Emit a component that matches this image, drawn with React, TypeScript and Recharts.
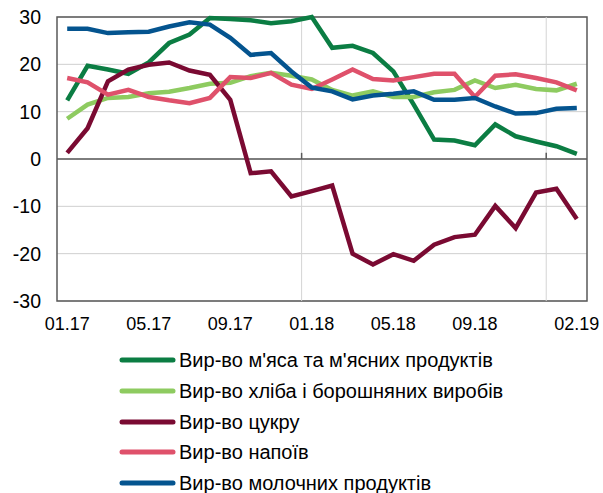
import React from 'react';
import {
  LineChart, Line, XAxis, YAxis, CartesianGrid, ReferenceLine, ReferenceArea, Legend,
} from 'recharts';

const months = [
  '01.17', '02.17', '03.17', '04.17', '05.17', '06.17', '07.17', '08.17', '09.17', '10.17', '11.17', '12.17',
  '01.18', '02.18', '03.18', '04.18', '05.18', '06.18', '07.18', '08.18', '09.18', '10.18', '11.18', '12.18',
  '01.19', '02.19',
];
const xTicks = ['01.17', '05.17', '09.17', '01.18', '05.18', '09.18', '02.19'];
const yTicks = [-30, -20, -10, 0, 10, 20, 30];
const yearStarts = ['01.18', '01.19'];

const meat = [12.4, 19.7, 18.9, 18.0, 20.4, 24.5, 26.3, 29.8, 29.6, 29.3, 28.7, 29.1, 30.0, 23.5, 23.9, 22.4, 18.5, 11.5, 4.1, 3.9, 2.9, 7.3, 4.8, 3.7, 2.7, 1.1];
const bread = [8.5, 11.5, 12.9, 13.1, 13.9, 14.2, 15.0, 15.9, 16.1, 17.5, 18.2, 17.6, 16.8, 14.6, 13.4, 14.3, 13.1, 13.1, 14.1, 14.6, 16.6, 15.0, 15.7, 14.8, 14.5, 15.9];
const sugar = [1.3, 6.5, 16.4, 18.9, 19.9, 20.4, 18.7, 17.8, 12.5, -3.0, -2.6, -7.9, -6.8, -5.6, -20.0, -22.3, -20.1, -21.5, -18.1, -16.5, -16.0, -9.9, -14.6, -7.1, -6.3, -12.7];
const drinks = [17.1, 16.2, 13.6, 14.6, 13.1, 12.4, 11.8, 12.9, 17.3, 17.1, 18.2, 15.7, 14.8, 16.8, 18.9, 16.9, 16.6, 17.3, 18.0, 18.0, 13.1, 17.6, 17.9, 17.1, 16.2, 14.5];
const dairy = [27.5, 27.5, 26.6, 26.8, 26.9, 28.0, 28.9, 28.4, 25.6, 22.0, 22.4, 18.5, 15.1, 14.3, 12.6, 13.4, 13.8, 14.3, 12.5, 12.5, 12.9, 11.1, 9.6, 9.7, 10.6, 10.8];

const series = [
  { key: 'meat', name: "Вир-во м'яса та м'ясних продуктів", color: '#0b7d43', values: meat },
  { key: 'bread', name: 'Вир-во хліба і борошняних виробів', color: '#8ecb60', values: bread },
  { key: 'sugar', name: 'Вир-во цукру', color: '#7a0a32', values: sugar },
  { key: 'drinks', name: 'Вир-во напоїв', color: '#df516b', values: drinks },
  { key: 'dairy', name: 'Вир-во молочних продуктів', color: '#04548f', values: dairy },
];

// each month sits in the middle of its slot on a 0..N numeric axis
const data = months.map((m, i) => {
  const row: Record<string, any> = { m, x: i + 0.5 };
  series.forEach((s) => { row[s.key] = s.values[i]; });
  return row;
});
const tickPos = xTicks.map((t) => months.indexOf(t) + 0.5);
const gridPos = yearStarts.map((t) => months.indexOf(t));

const FONT = '"Liberation Sans", Arial, sans-serif';

const LegendBox = () => (
  <div style={{ fontFamily: FONT, fontSize: 20, color: '#000', lineHeight: 1 }}>
    {series.map((s) => (
      <div key={s.key} style={{ display: 'flex', alignItems: 'center', height: 30.7 }}>
        <svg width={58} height={10} style={{ marginRight: 3 }}>
          <line x1={4} y1={5} x2={55} y2={5} stroke={s.color} strokeWidth={5} strokeLinecap="round" />
        </svg>
        <span>{s.name}</span>
      </div>
    ))}
  </div>
);

export default function App() {
  return (
    <div style={{ position: 'absolute', left: 0, top: 0, background: '#fff' }}>
      <LineChart width={603} height={493} data={data} margin={{ top: 17, right: 16, left: 0, bottom: 162 }}>
        <CartesianGrid vertical={false} stroke="#cfcfcf" strokeWidth={1} />
        <XAxis
          dataKey="x"
          type="number"
          domain={[0, months.length]}
          allowDataOverflow
          ticks={tickPos}
          interval={0}
          tickFormatter={(v) => months[Math.floor(v)]}
          height={30}
          tickLine={false}
          axisLine={false}
          tickSize={6}
          tickMargin={10}
          tick={{ fill: '#000', fontSize: 18, fontFamily: FONT }}
        />
        <YAxis
          domain={[-30, 30]}
          ticks={yTicks}
          width={57}
          tickLine={false}
          axisLine={false}
          tickSize={6}
          tickMargin={10}
          tick={{ fill: '#000', fontSize: 19.5, fontFamily: FONT }}
        />
        {gridPos.map((g) => (
          <ReferenceLine key={`g${g}`} x={g} stroke="#d4d4d4" strokeWidth={1} />
        ))}
        <ReferenceLine y={0} stroke="#5a5a5a" strokeWidth={1.5} />
        {gridPos.map((g) => (
          <ReferenceLine key={`t${g}`} segment={[{ x: g, y: 0 }, { x: g, y: 1.3 }]} stroke="#5a5a5a" strokeWidth={1.5} />
        ))}
        <ReferenceArea x1={0} x2={months.length} y1={-30} y2={30} fill="none" stroke="#5a5a5a" strokeWidth={1.5} />
        {series.map((s) => (
          <Line
            key={s.key}
            dataKey={s.key}
            name={s.name}
            stroke={s.color}
            strokeWidth={4.5}
            dot={false}
            type="linear"
            isAnimationActive={false}
          />
        ))}
        <Legend
          layout="vertical"
          align="center"
          verticalAlign="middle"
          wrapperStyle={{ top: 345, left: 118, width: 'auto' }}
          content={() => <LegendBox />}
        />
      </LineChart>
    </div>
  );
}
